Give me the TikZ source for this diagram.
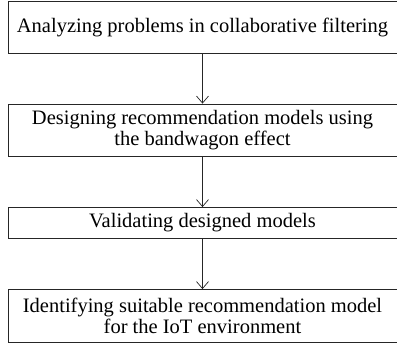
\documentclass[tikz,border=0pt]{standalone}
\usepackage{fontspec}
\setmainfont{Liberation Serif}
\usetikzlibrary{arrows.meta}
\begin{document}
\begin{tikzpicture}[x=1pt,y=1pt,
  stepbox/.style={draw=black!85, line width=0.8pt, minimum width=389pt, inner sep=0pt,
    align=center, font=\fontsize{20.5}{21}\selectfont},
  flow/.style={draw=black!85, line width=0.7pt, -{Straight Barb[length=7pt,width=12pt]}}]
\useasboundingbox (0,0) rectangle (397,-347);
\node[stepbox, minimum height=52pt] (a) at (202.5,-27) {Analyzing problems in collaborative filtering};
\node[stepbox, minimum height=52pt] (b) at (202.5,-130) {Designing recommendation models using\\the bandwagon effect};
\node[stepbox, minimum height=31pt] (c) at (202.5,-223) {Validating designed models};
\node[stepbox, minimum height=53pt] (d) at (202.5,-316) {Identifying suitable recommendation model\\for the IoT environment};
\draw[flow] (a) -- (b);
\draw[flow] (b) -- (c);
\draw[flow] (c) -- (d);
\end{tikzpicture}
\end{document}
